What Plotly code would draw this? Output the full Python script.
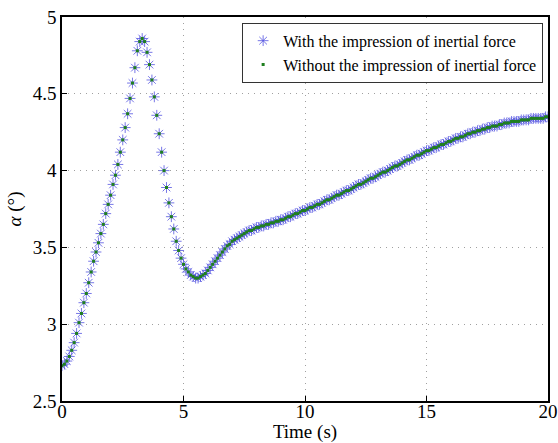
import plotly.graph_objects as go

time_s = [round(i * 0.1, 1) for i in range(201)]

alpha_with = [
    2.73, 2.74, 2.76, 2.79, 2.83, 2.88, 2.94, 3.01, 3.07, 3.14,
    3.20, 3.27, 3.34, 3.41, 3.47, 3.53, 3.59, 3.65, 3.72, 3.78,
    3.84, 3.91, 3.97, 4.04, 4.12, 4.20, 4.28, 4.37, 4.47, 4.57,
    4.67, 4.78, 4.84, 4.86, 4.84, 4.77, 4.69, 4.59, 4.48, 4.36,
    4.24, 4.12, 4.00, 3.89, 3.79, 3.70, 3.62, 3.54, 3.48, 3.43,
    3.39, 3.36, 3.34, 3.32, 3.31, 3.30, 3.30, 3.31, 3.32, 3.33,
    3.35, 3.37, 3.39, 3.41, 3.43, 3.45, 3.47, 3.49, 3.51, 3.52,
    3.54, 3.55, 3.56, 3.57, 3.58, 3.59, 3.60, 3.61, 3.61, 3.62,
    3.63, 3.63, 3.64, 3.64, 3.65, 3.65, 3.66, 3.66, 3.67, 3.67,
    3.68, 3.68, 3.69, 3.70, 3.70, 3.71, 3.72, 3.72, 3.73, 3.74,
    3.74, 3.75, 3.76, 3.76, 3.77, 3.78, 3.78, 3.79, 3.80, 3.81,
    3.81, 3.82, 3.83, 3.84, 3.84, 3.85, 3.86, 3.87, 3.87, 3.88,
    3.89, 3.90, 3.91, 3.91, 3.92, 3.93, 3.94, 3.95, 3.95, 3.96,
    3.97, 3.98, 3.99, 3.99, 4.00, 4.01, 4.02, 4.03, 4.03, 4.04,
    4.05, 4.06, 4.07, 4.07, 4.08, 4.09, 4.10, 4.10, 4.11, 4.12,
    4.13, 4.13, 4.14, 4.15, 4.15, 4.16, 4.17, 4.17, 4.18, 4.19,
    4.19, 4.20, 4.21, 4.21, 4.22, 4.22, 4.23, 4.24, 4.24, 4.25,
    4.25, 4.26, 4.26, 4.27, 4.27, 4.28, 4.28, 4.29, 4.29, 4.29,
    4.30, 4.30, 4.31, 4.31, 4.31, 4.32, 4.32, 4.32, 4.32, 4.33,
    4.33, 4.33, 4.33, 4.34, 4.34, 4.34, 4.34, 4.34, 4.34, 4.35,
    4.35,
]

alpha_without = list(alpha_with)

x_ticks = [0, 5, 10, 15, 20]
y_ticks = [2.5, 3, 3.5, 4, 4.5, 5]
y_tick_text = ["2.5", "3", "3.5", "4", "4.5", "5"]

FONT = "Liberation Serif"

fig = go.Figure()
fig.add_trace(go.Scatter(
    x=time_s, y=alpha_with, mode="markers",
    name="With the impression of inertial force",
    marker=dict(symbol="asterisk-open", size=9, color="rgba(85,85,225,0.8)",
                line=dict(width=1, color="rgba(85,85,225,0.8)")),
))
fig.add_trace(go.Scatter(
    x=time_s, y=alpha_without, mode="markers",
    name="Without the impression of inertial force",
    marker=dict(symbol="square", size=3, color="#1f7f1f", line=dict(width=0)),
))

axis_common = dict(
    showline=True, linecolor="black", linewidth=1.5, mirror=True,
    ticks="inside", ticklen=5, tickcolor="black",
    showgrid=True, gridcolor="#a0a0a0", griddash="1px,5px", gridwidth=1,
    zeroline=False, ticklabeloverflow="allow", automargin=False,
    tickfont=dict(family=FONT, size=19, color="black"),
)

fig.update_layout(
    width=558, height=443,
    margin=dict(l=62, r=10, t=17, b=42),
    paper_bgcolor="white", plot_bgcolor="white",
    font=dict(family=FONT, color="black"),
    showlegend=True,
    legend=dict(
        x=0.99, y=0.985, xanchor="right", yanchor="top",
        bordercolor="#333333", borderwidth=1, bgcolor="white",
        font=dict(family=FONT, size=16, color="black"),
        itemsizing="trace", tracegroupgap=0,
    ),
    xaxis=dict(range=[0, 20], tickvals=x_ticks, ticklabelstandoff=-8,
               title=dict(text="Time (s)", font=dict(family=FONT, size=19), standoff=4),
               **axis_common),
    yaxis=dict(range=[2.5, 5], tickvals=y_ticks, ticktext=y_tick_text,
               title=dict(text="<i>α</i> (°)", font=dict(family=FONT, size=19), standoff=6),
               **axis_common),
)

fig.write_html("out.html")
